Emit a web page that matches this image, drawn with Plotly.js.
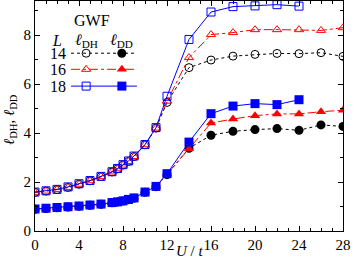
<!DOCTYPE html>
<html><head><meta charset="utf-8">
<script src="https://cdn.plot.ly/plotly-3.0.1.min.js"></script>
<style>body{margin:0;padding:0;background:#fff}#c{width:354px;height:260px}</style>
</head><body><div id="c"></div>
<script>
const U = [0,1,2,3,4,5,6,7,7.5,8,8.5,9,10,11,12,14,16,18,20,22,24,26,28];
const U18 = [0,1,2,3,4,5,6,7,7.5,8,8.5,9,10,11,12,14,16,18,20,22,24];
const dh14 = [1.58,1.63,1.69,1.78,1.91,2.05,2.22,2.41,2.54,2.69,2.84,3.04,3.52,4.20,5.25,6.67,6.98,7.14,7.21,7.25,7.24,7.28,7.13];
const dh16 = [1.58,1.63,1.69,1.78,1.91,2.05,2.22,2.41,2.54,2.69,2.84,3.04,3.52,4.20,5.30,7.08,8.02,8.10,8.22,8.22,8.22,8.19,8.30];
const dh18 = [1.59,1.64,1.70,1.80,1.93,2.06,2.23,2.42,2.55,2.71,2.86,3.06,3.53,4.22,5.50,7.82,8.94,9.16,9.19,9.24,9.18];
const dd14 = [0.89,0.92,0.95,0.98,1.01,1.05,1.09,1.15,1.18,1.22,1.28,1.34,1.58,1.81,2.30,3.38,3.91,4.07,4.14,4.18,4.11,4.33,4.27];
const dd16 = [0.89,0.92,0.95,0.98,1.01,1.05,1.09,1.15,1.18,1.22,1.28,1.34,1.58,1.81,2.32,3.36,4.41,4.57,4.71,4.78,4.78,4.87,4.93];
const dd18 = [0.90,0.93,0.96,0.99,1.02,1.06,1.10,1.16,1.19,1.23,1.29,1.35,1.59,1.82,2.34,3.63,4.79,5.10,5.20,5.16,5.36];
const xTicks = [0,4,8,12,16,20,24,28];
const yTicks = [0,2,4,6,8];
const sizes = ['14','16','18'];

const BLACK='#000000', RED='#ff0000', BLUE='#0000ff';
const styles = {
  '14': {color: BLACK, dash: 'dot', open: 'circle-open', fill: 'circle'},
  '16': {color: RED, dash: 'dashdot', open: 'triangle-up-open', fill: 'triangle-up'},
  '18': {color: BLUE, dash: 'solid', open: 'square-open', fill: 'square'}
};
const series = [
  {L:'14', x:U, dh:dh14, dd:dd14},
  {L:'16', x:U, dh:dh16, dd:dd16},
  {L:'18', x:U18, dh:dh18, dd:dd18}
];
const traces = [];
series.forEach(s => {
  const st = styles[s.L];
  traces.push({x:s.x, y:s.dh, type:'scatter', mode:'lines+markers', showlegend:false,
    line:{color:st.color, dash:st.dash, width:1},
    marker:{symbol:st.open, size:8, color:st.color, line:{width:1, color:st.color}}});
  traces.push({x:s.x, y:s.dd, type:'scatter', mode:'lines+markers', showlegend:false,
    line:{color:st.color, dash:st.dash, width:1},
    marker:{symbol:st.fill, size:9, color:st.color}});
});
// legend samples on a hidden overlay axis (0..1 paper-like)
const legRowY = [0.773, 0.703, 0.630];
sizes.forEach((L,i) => {
  const st = styles[L];
  traces.push({x:[0.117,0.331], y:[legRowY[i],legRowY[i]], xaxis:'x2', yaxis:'y2', type:'scatter', mode:'lines',
    showlegend:false, line:{color:st.color, dash:st.dash, width:1}, hoverinfo:'skip'});
  traces.push({x:[0.166], y:[legRowY[i]], xaxis:'x2', yaxis:'y2', type:'scatter', mode:'markers', showlegend:false,
    marker:{symbol:st.open, size:8, color:st.color, line:{width:1, color:st.color}}});
  traces.push({x:[0.282], y:[legRowY[i]], xaxis:'x2', yaxis:'y2', type:'scatter', mode:'markers', showlegend:false,
    marker:{symbol:st.fill, size:9, color:st.color}});
});
const F = 'Liberation Serif, Times New Roman, serif';
const ann = [
  {text:'GWF', x:0.185, y:0.917},
  {text:'<i>L</i>', x:0.071, y:0.83},
  {text:'<i>ℓ</i><sub>DH</sub>', x:0.166, y:0.83},
  {text:'<i>ℓ</i><sub>DD</sub>', x:0.282, y:0.83}
].map(a => Object.assign({xref:'paper', yref:'paper', showarrow:false, xanchor:'center', yanchor:'middle', font:{family:F, size:16, color:'#000'}}, a));
sizes.forEach((L,i) => ann.push({text:L, xref:'paper', yref:'paper', x:0.107, y:legRowY[i], xanchor:'right', yanchor:'middle', showarrow:false, font:{family:F, size:16, color:'#000'}}));
ann.push({text:'<i>ℓ</i><sub>DH</sub>, <i>ℓ</i><sub>DD</sub>', xref:'paper', yref:'paper', x:-0.081, y:0.483, textangle:-90, showarrow:false, xanchor:'center', yanchor:'middle', font:{family:F, size:15, color:'#000'}});
ann.push({text:'<i>U</i> / <i>t</i>', xref:'paper', yref:'paper', x:0.503, y:-0.087, showarrow:false, xanchor:'center', yanchor:'middle', font:{family:F, size:15, color:'#000'}});

const axBase = {showgrid:false, zeroline:false, showline:true, linecolor:'#000', linewidth:1, mirror:'allticks',
  ticks:'inside', ticklen:5, tickwidth:1, tickcolor:'#000', tickfont:{family:F, size:15, color:'#000'}};
const layout = {
  width:354, height:260, margin:{l:35, r:11, t:1, b:29},
  paper_bgcolor:'#fff', plot_bgcolor:'#fff',
  xaxis: Object.assign({}, axBase, {range:[0,28], tickvals:xTicks, ticktext:xTicks.map(String),
    minor:{dtick:1, ticks:'inside', ticklen:3, tickcolor:'#000', tickwidth:1}}),
  yaxis: Object.assign({}, axBase, {range:[0,9.39], tickvals:yTicks, ticktext:yTicks.map(String),
    minor:{dtick:1, ticks:'inside', ticklen:3, tickcolor:'#000', tickwidth:1}}),
  xaxis2: {overlaying:'x', range:[0,1], visible:false},
  yaxis2: {overlaying:'y', range:[0,1], visible:false},
  annotations: ann,
  showlegend:false
};
Plotly.newPlot('c', traces, layout, {staticPlot:true});
</script></body></html>
